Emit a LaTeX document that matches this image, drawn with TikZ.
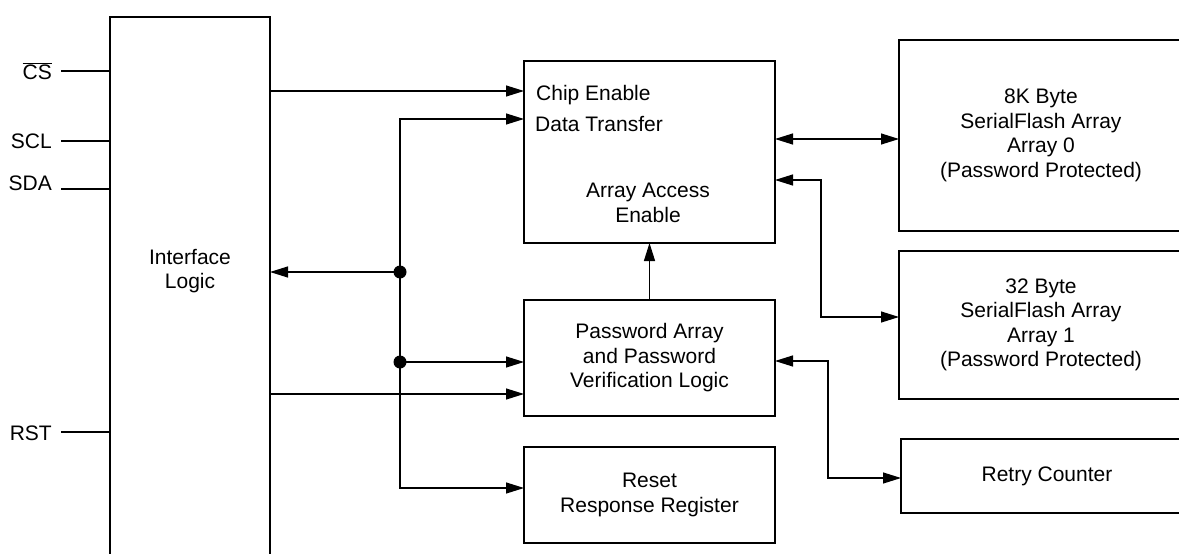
\documentclass[tikz,border=0pt]{standalone}
\usepackage{fontspec}
\setmainfont{Liberation Sans}
\usepackage{tikz}
\usetikzlibrary{positioning,arrows.meta,calc}
\tikzset{
    >={Triangle[length=18pt,width=11pt]},
    blockbox/.style={
        rectangle,
        draw=black, line width=2.4pt,
        inner sep=0pt, outer sep=0pt,
        align=center
    },
    wire/.style={draw, line width=1.2pt},
    pinlabel/.style={anchor=base east, inner sep=0pt},
    font={\fontsize{21pt}{24.5pt}\selectfont},
}

\begin{document}
\begin{tikzpicture}[x=1pt, y=-1pt]
        % Fix the frame to the size of the page
        \path[use as bounding box] (0,0) rectangle (1179,554);
        \clip (0,0) rectangle (1179,554);

        % Blocks
        \node[blockbox, minimum width=160pt, minimum height=603pt] (iface) at (190,318.5) {};
        \node[align=center] (ifacetext) at (190,271) {Interface\\Logic};

        \node[blockbox, minimum width=251pt, minimum height=182pt] (chip) at (649.5,152) {};
        \node[blockbox, minimum width=251pt, minimum height=116pt, below=57pt of chip] (pwd) {Password Array\\and Password\\Verification Logic};
        \node[blockbox, minimum width=251pt, minimum height=96pt, below=31pt of pwd] (rst) {Reset\\Response Register};

        \node[blockbox, minimum width=284pt, minimum height=191pt] (flash0) at (1041,135.5) {8K Byte\\SerialFlash Array\\Array 0\\(Password Protected)};
        \node[blockbox, minimum width=284pt, minimum height=148pt, below=20pt of flash0] (flash1) {32 Byte\\SerialFlash Array\\Array 1\\(Password Protected)};
        \node[blockbox, minimum width=292pt, minimum height=74pt] (retry) at (1047,476) {Retry Counter};

        % Texts inside the chip enable block
        \node[anchor=base west, inner sep=0pt] (chipen) at (536,100) {Chip Enable};
        \node[anchor=base west, inner sep=0pt] (datatr) at (535,131) {Data Transfer};
        \node[align=center] (arracc) at (648,203) {Array Access\\Enable};

        % Pins
        \node[pinlabel] (cs)  at (52,79)  {$\overline{\mbox{CS}}$};
        \node[pinlabel] (scl) at (52,148) {SCL};
        \node[pinlabel] (sda) at (52,190) {SDA};
        \node[pinlabel] (rstpin) at (52,440) {RST};
        \coordinate (cspin)  at (61,71);
        \coordinate (sclpin) at (61,141);
        \coordinate (sdapin) at (61,189);
        \coordinate (rstp)   at (61,432);
        \foreach \p in {cspin,sclpin,sdapin,rstp}
            \draw[wire] (\p) -- (\p -| iface.west);

        % Points where the wires meet the blocks
        \coordinate (cein)  at ([yshift=61pt]chip.west);
        \coordinate (dtin)  at ([yshift=33pt]chip.west);
        \coordinate (pwdin) at ([yshift=-36pt]pwd.west);
        \coordinate (f0in)  at ([yshift=-3.5pt]flash0.west);
        \coordinate (f1in)  at ([yshift=8pt]flash1.west);
        \coordinate (rtin)  at ([yshift=-2pt]retry.west);
        \coordinate (j1) at (400,272);
        \coordinate (j2) at (400,362);

        \draw[wire, ->] (cein -| iface.east) -- (cein);
        \draw[wire, ->] (j1) |- (dtin);
        \draw[wire, ->] (j1) |- ([yshift=7pt]rst.west);
        \draw[wire, ->] (j1) -- (j1 -| iface.east);
        \draw[wire, ->] (j2) -- (j2 -| pwd.west);
        \draw[wire, ->] (pwdin -| iface.east) -- (pwdin);
        \draw[wire, ->] (pwd.north) -- (pwd.north |- chip.south);
        \draw[wire, <->] (f0in -| chip.east) -- (f0in);
        \draw[wire, <->] ([yshift=-28pt]chip.east) -- ++(46,0) |- (f1in);
        \draw[wire, <->] ([yshift=-3pt]pwd.east) -- ++(53,0) |- (rtin);

        \fill (j1) circle (6.5pt);
        \fill (j2) circle (6.5pt);
\end{tikzpicture}
\end{document}
